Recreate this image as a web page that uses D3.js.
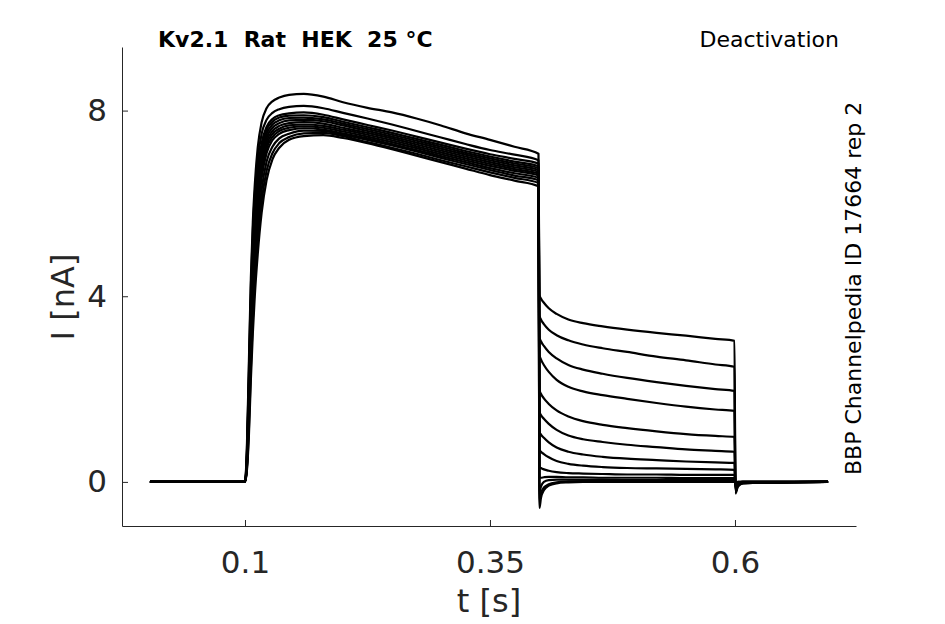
<!DOCTYPE html>
<html>
<head>
<meta charset="utf-8">
<script src="https://cdn.jsdelivr.net/npm/d3@7"></script>
<style>
  body { margin: 0; background: #fff; }
  svg text { font-family: "DejaVu Sans", sans-serif; fill: #262626; white-space: pre; }
</style>
</head>
<body>
<svg id="chart" width="945" height="624"></svg>
<script>

// sample times [s] for each protocol segment
const baseTimes = [0.003, 0.1];
const actTimes = [0.1, 0.102, 0.104, 0.106, 0.108, 0.11, 0.113, 0.117, 0.122, 0.128, 0.135, 0.145,
  0.16, 0.18, 0.2, 0.225, 0.25, 0.275, 0.3, 0.325, 0.35, 0.375, 0.3995];
const tailTimes = [0.4005, 0.402, 0.405, 0.41, 0.418, 0.43, 0.445, 0.465, 0.49, 0.52, 0.55, 0.58, 0.5995];
const postTimes = [0.6005, 0.603, 0.608, 0.695];

// currents [nA], one row per sweep
const actCurrents = [
  [0, 0.8, 2.6, 4.4, 5.6, 6.4, 7.2, 7.75, 8.05, 8.2, 8.28, 8.34, 8.36, 8.3, 8.18, 8.06, 7.96, 7.83, 7.68, 7.51, 7.37, 7.22, 7.07],
  [0, 0.7, 2.4, 4.2, 5.4, 6.2, 6.95, 7.5, 7.8, 7.95, 8.03, 8.08, 8.1, 8.05, 7.95, 7.83, 7.7, 7.56, 7.42, 7.28, 7.15, 7.05, 6.93],
  [0, 0.6, 2.2, 3.9, 5.1, 5.9, 6.7, 7.3, 7.65, 7.82, 7.9, 7.94, 7.96, 7.91, 7.81, 7.69, 7.57, 7.44, 7.31, 7.18, 7.06, 6.96, 6.86],
  [0, 0.55, 2.1, 3.8, 5.0, 5.8, 6.6, 7.2, 7.58, 7.76, 7.85, 7.89, 7.9, 7.86, 7.76, 7.64, 7.52, 7.39, 7.26, 7.13, 7.01, 6.9, 6.8],
  [0, 0.5, 2.0, 3.6, 4.8, 5.6, 6.45, 7.1, 7.5, 7.7, 7.79, 7.84, 7.85, 7.81, 7.72, 7.6, 7.48, 7.35, 7.22, 7.09, 6.97, 6.86, 6.76],
  [0, 0.5, 1.9, 3.5, 4.7, 5.5, 6.35, 7.0, 7.42, 7.63, 7.73, 7.79, 7.8, 7.77, 7.68, 7.56, 7.44, 7.31, 7.18, 7.05, 6.93, 6.82, 6.72],
  [0, 0.45, 1.8, 3.4, 4.55, 5.35, 6.2, 6.9, 7.34, 7.56, 7.67, 7.73, 7.75, 7.72, 7.63, 7.52, 7.4, 7.27, 7.14, 7.01, 6.89, 6.78, 6.68],
  [0, 0.4, 1.7, 3.3, 4.45, 5.25, 6.1, 6.8, 7.26, 7.5, 7.61, 7.68, 7.7, 7.67, 7.59, 7.48, 7.36, 7.23, 7.1, 6.97, 6.85, 6.74, 6.64],
  [0, 0.4, 1.6, 3.15, 4.3, 5.1, 5.95, 6.68, 7.18, 7.43, 7.56, 7.63, 7.66, 7.63, 7.55, 7.44, 7.32, 7.19, 7.06, 6.93, 6.81, 6.7, 6.6],
  [0, 0.35, 1.5, 3.0, 4.15, 4.95, 5.8, 6.55, 7.08, 7.36, 7.5, 7.58, 7.62, 7.59, 7.51, 7.4, 7.28, 7.15, 7.02, 6.89, 6.76, 6.65, 6.55],
  [0, 0.35, 1.35, 2.7, 3.8, 4.6, 5.5, 6.3, 6.9, 7.22, 7.4, 7.5, 7.57, 7.56, 7.48, 7.37, 7.25, 7.12, 6.98, 6.85, 6.72, 6.6, 6.5],
  [0, 0.3, 1.15, 2.45, 3.5, 4.3, 5.2, 6.05, 6.7, 7.08, 7.3, 7.43, 7.51, 7.52, 7.45, 7.32, 7.2, 7.07, 6.93, 6.8, 6.67, 6.55, 6.44],
  [0, 0.25, 1.0, 2.2, 3.2, 4.0, 4.9, 5.8, 6.5, 6.95, 7.2, 7.37, 7.45, 7.47, 7.41, 7.3, 7.17, 7.03, 6.89, 6.75, 6.61, 6.49, 6.37]
];

const tailCurrents = [
  [4.03, 3.95, 3.86, 3.74, 3.62, 3.5, 3.42, 3.35, 3.28, 3.21, 3.15, 3.08, 3.04],
  [3.58, 3.5, 3.4, 3.28, 3.16, 3.05, 2.96, 2.88, 2.8, 2.7, 2.62, 2.53, 2.48],
  [3.12, 3.03, 2.93, 2.8, 2.66, 2.52, 2.42, 2.33, 2.24, 2.15, 2.07, 2.0, 1.96],
  [2.74, 2.64, 2.52, 2.37, 2.2, 2.05, 1.95, 1.87, 1.79, 1.7, 1.62, 1.56, 1.53],
  [1.98, 1.9, 1.8, 1.68, 1.54, 1.41, 1.31, 1.23, 1.16, 1.09, 1.03, 0.99, 0.97],
  [1.51, 1.44, 1.36, 1.25, 1.12, 1.0, 0.92, 0.86, 0.8, 0.75, 0.7, 0.67, 0.65],
  [1.08, 1.02, 0.95, 0.85, 0.74, 0.65, 0.59, 0.54, 0.5, 0.47, 0.44, 0.42, 0.41],
  [0.69, 0.65, 0.6, 0.53, 0.45, 0.39, 0.35, 0.32, 0.3, 0.29, 0.28, 0.27, 0.26],
  [0.32, 0.3, 0.27, 0.24, 0.21, 0.19, 0.18, 0.17, 0.16, 0.16, 0.15, 0.15, 0.15],
  [0.1, 0.09, 0.1, 0.11, 0.11, 0.1, 0.1, 0.09, 0.09, 0.09, 0.08, 0.08, 0.08],
  [-0.22, -0.1, 0.0, 0.04, 0.05, 0.05, 0.05, 0.05, 0.04, 0.04, 0.04, 0.04, 0.04],
  [-0.4, -0.25, -0.12, -0.05, -0.01, 0.01, 0.02, 0.02, 0.02, 0.02, 0.02, 0.02, 0.02],
  [-0.56, -0.35, -0.18, -0.08, -0.03, -0.01, 0, 0, 0, 0, 0, 0, 0]
];

const postCurrents = [
  [-0.25, -0.1, -0.03, 0], [-0.23, -0.09, -0.03, 0], [-0.21, -0.08, -0.02, 0], [-0.19, -0.07, -0.02, 0],
  [-0.16, -0.06, -0.02, 0], [-0.13, -0.05, -0.01, 0], [-0.11, -0.04, -0.01, 0], [-0.08, -0.03, -0.01, 0],
  [-0.06, -0.02, 0, 0], [-0.04, -0.01, 0, 0], [-0.03, -0.01, 0, 0], [-0.02, 0, 0, 0], [-0.02, 0, 0, 0]
];

const baseCurrents = [0, 0];

const xTicks = [0.1, 0.35, 0.6];
const yTicks = [0, 4, 8];

const titleText = "Kv2.1  Rat  HEK  25 °C";
const protocolText = "Deactivation";
const sourceText = "BBP Channelpedia ID 17664 rep 2";

// layout
const svg = d3.select("#chart");
const plotLeft = 122, plotRight = 856, plotTop = 47, plotBottom = 526;

const xScale = d3.scaleLinear().domain([-0.0255, 0.7235]).range([plotLeft, plotRight]);
const yScale = d3.scaleLinear().domain([-0.95, 9.37]).range([plotBottom, plotTop]);

// build each sweep as one continuous list of points
const sweeps = actCurrents.map((act, i) => [
  ...baseTimes.map((t, j) => [t, baseCurrents[j]]),
  ...actTimes.map((t, j) => [t, act[j]]),
  ...tailTimes.map((t, j) => [t, tailCurrents[i][j]]),
  ...postTimes.map((t, j) => [t, postCurrents[i][j]])
]);

const line = d3.line()
  .x(d => xScale(d[0]))
  .y(d => yScale(d[1]))
  .curve(d3.curveMonotoneX);

svg.append("g")
  .selectAll("path")
  .data(sweeps)
  .join("path")
    .attr("d", line)
    .attr("fill", "none")
    .attr("stroke", "#000")
    .attr("stroke-width", 2.2)
    .attr("stroke-linejoin", "round");

// axes, MATLAB style: ticks pointing inward
const xAxis = svg.append("g")
  .attr("transform", `translate(0,${plotBottom})`)
  .call(d3.axisBottom(xScale)
    .tickValues(xTicks)
    .tickFormat(d3.format("~g"))
    .tickSizeInner(-6)
    .tickSizeOuter(0)
    .tickPadding(25));

const yAxis = svg.append("g")
  .attr("transform", `translate(${plotLeft},0)`)
  .call(d3.axisLeft(yScale)
    .tickValues(yTicks)
    .tickSizeInner(-6)
    .tickSizeOuter(0)
    .tickPadding(15));

[xAxis, yAxis].forEach(g => {
  g.select(".domain").attr("stroke", "#262626").attr("stroke-width", 1);
  g.selectAll(".tick line").attr("stroke", "#262626");
  g.selectAll(".tick text")
    .attr("fill", "#262626")
    .style("font-family", "DejaVu Sans")
    .style("font-size", "31px");
});

// axis labels
svg.append("text")
  .attr("x", 489)
  .attr("y", 612)
  .attr("text-anchor", "middle")
  .style("font-size", "32px")
  .text("t [s]");

svg.append("text")
  .attr("transform", "translate(74,297) rotate(-90)")
  .attr("text-anchor", "middle")
  .style("font-size", "32px")
  .text("I [nA]");

// titles
svg.append("text")
  .attr("x", 158)
  .attr("y", 47)
  .attr("xml:space", "preserve")
  .style("font-size", "22px")
  .style("font-weight", "bold")
  .style("fill", "#000")
  .text(titleText);

svg.append("text")
  .attr("x", 839)
  .attr("y", 47)
  .attr("text-anchor", "end")
  .style("font-size", "22px")
  .style("fill", "#000")
  .text(protocolText);

svg.append("text")
  .attr("transform", "translate(861,475) rotate(-90)")
  .style("font-size", "22px")
  .style("fill", "#000")
  .text(sourceText);

</script>
</body>
</html>
